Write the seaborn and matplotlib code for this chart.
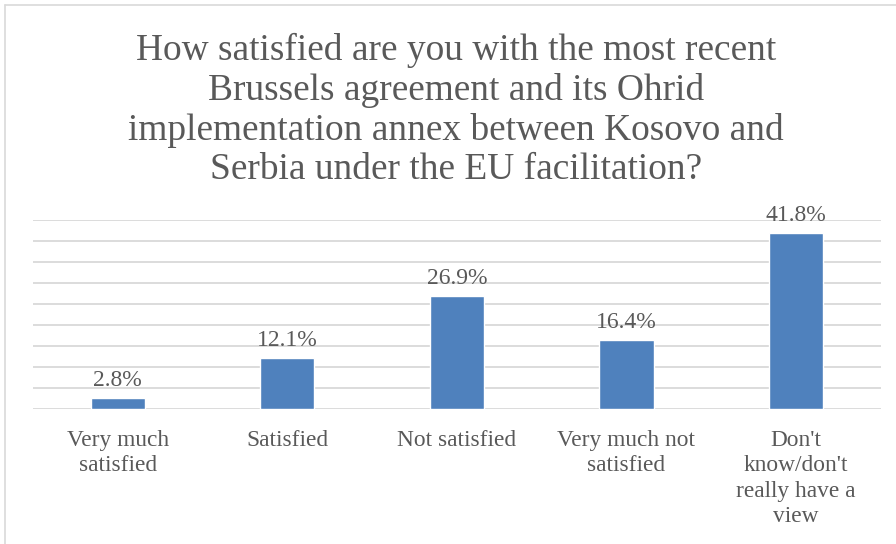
import matplotlib
matplotlib.use("Agg")
import matplotlib.pyplot as plt
import seaborn as sns
import pandas as pd
from matplotlib.lines import Line2D

categories = ["Very much\nsatisfied", "Satisfied", "Not satisfied",
              "Very much not\nsatisfied", "Don't\nknow/don't\nreally have a\nview"]
values = [2.8, 12.1, 26.9, 16.4, 41.8]
value_labels = ["2.8%", "12.1%", "26.9%", "16.4%", "41.8%"]

title = ("How satisfied are you with the most recent\n"
         "Brussels agreement and its Ohrid\n"
         "implementation annex between Kosovo and\n"
         "Serbia under the EU facilitation?")

sns.set_theme(style="white")
plt.rcParams["font.family"] = ["Liberation Serif", "DejaVu Serif"]

text_color = "#595959"
grid_color = "#D9D9D9"
bar_color = "#4F81BD"

df = pd.DataFrame({"category": categories, "value": values})

W, H = 896, 544
fig = plt.figure(figsize=(W / 100, H / 100), dpi=100)
ax = fig.add_axes([33 / W, 1 - 409.3 / H, (880.7 - 33) / W, (409.3 - 219.7) / H])

sns.barplot(data=df, x="category", y="value", color=bar_color,
            width=0.32, saturation=1, ax=ax)

ax.set_ylim(0, 45)
ax.set_yticks(range(0, 50, 5))
ax.yaxis.grid(True, color=grid_color, linewidth=1.3)
ax.set_axisbelow(True)
ax.tick_params(axis="y", left=False, labelleft=False)
ax.tick_params(axis="x", bottom=False, labelsize=16.8, labelcolor=text_color, pad=9)
for lbl in ax.get_xticklabels():
    lbl.set_linespacing(1.27)
for s in ax.spines.values():
    s.set_visible(False)
ax.set_xlabel("")
ax.set_ylabel("")

for i, (v, t) in enumerate(zip(values, value_labels)):
    ax.annotate(t, (i, v), xytext=(0, 5), textcoords="offset points",
                ha="center", va="bottom", fontsize=17, color=text_color)

fig.text(456 / W, 1 - 110 / H, title, ha="center", va="center", fontsize=26.9,
         color=text_color, linespacing=1.19)

# chart frame (top and left edges)
fig.add_artist(Line2D([5 / W, 1], [1 - 5 / H, 1 - 5 / H], transform=fig.transFigure,
                      color=grid_color, linewidth=1.2))
fig.add_artist(Line2D([5 / W, 5 / W], [0, 1 - 5 / H], transform=fig.transFigure,
                      color=grid_color, linewidth=1.2))

fig.savefig("out.png", dpi=100, facecolor="white")
